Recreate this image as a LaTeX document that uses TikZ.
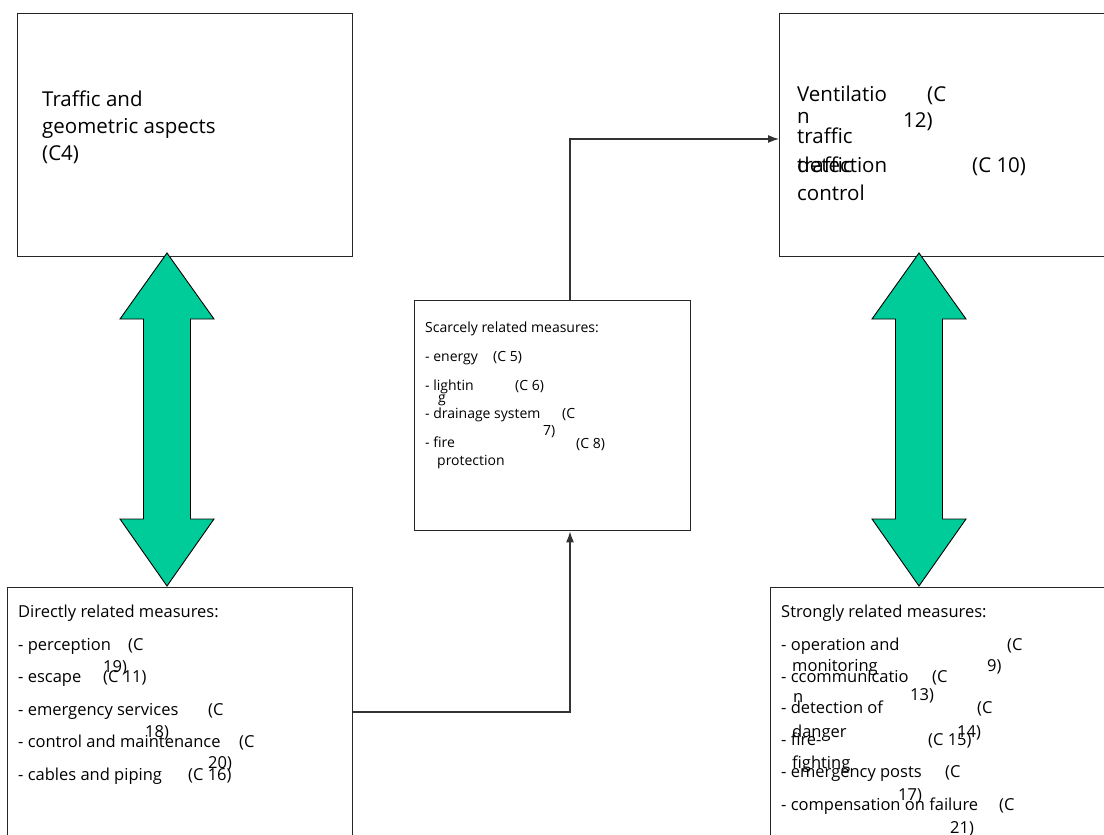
\documentclass[tikz,border=0pt]{standalone}
\usepackage{fontspec}
\setmainfont{Open Sans}
\usetikzlibrary{arrows.meta}
\definecolor{arrowgreen}{HTML}{00CC99}

\begin{document}
\begin{tikzpicture}[
  x=1pt, y=-1pt,
  % Box style
  panel/.style={rectangle, draw=black!85, line width=1.4pt, anchor=north west,
    inner sep=0pt},
  % Text styles
  bigtxt/.style={anchor=base west, inner sep=0pt, font=\fontsize{20.5}{24}\selectfont},
  listtxt/.style={anchor=base west, inner sep=0pt, font=\fontsize{16.5}{20}\selectfont},
  smalltxt/.style={anchor=base west, inner sep=0pt, font=\fontsize{14}{17}\selectfont},
  % Connector style
  link/.style={draw=black!80, line width=1.2pt, -{Latex[length=11pt,width=8pt]}},
  % Block arrow style
  bigarrow/.style={fill=arrowgreen, draw=black, line width=0.9pt, line join=miter},
]

\useasboundingbox (0,0) rectangle (1104,835);
\clip (0,0) rectangle (1104,835);

% --- Boxes ---
\node[panel, minimum width=335pt, minimum height=243pt] (traffic) at (17,13) {};
\node[panel, minimum width=340pt, minimum height=243pt] (vent) at (779,13) {};
\node[panel, minimum width=276pt, minimum height=230pt] (scarce) at (414,300) {};
\node[panel, minimum width=345pt, minimum height=250pt] (direct) at (7,587) {};
\node[panel, minimum width=350pt, minimum height=260pt] (strong) at (770,587) {};

% --- Top-left: traffic and geometry ---
\node[bigtxt] (tl1) at (42,106) {Traffic and};
\node[bigtxt] (tl2) at (42,133) {geometric aspects};
\node[bigtxt] (tl3) at (42,160) {(C4)};

% --- Top-right: ventilation, traffic ---
\node[bigtxt] (tr1) at (797,101) {Ventilatio};
\node[bigtxt] (tr1c) at (927,101) {(C};
\node[bigtxt] (tr2) at (797,123) {n};
\node[bigtxt] (tr2c) at (903,127) {12)};
\node[bigtxt] (tr3) at (797,143) {traffic};
\node[bigtxt] (tr4) at (797,172) {detection};
\node[bigtxt] (tr4b) at (797,172) {traffic};
\node[bigtxt] (tr4c) at (972,172) {(C 10)};
\node[bigtxt] (tr5) at (797,200) {control};

% --- Middle: scarcely related ---
\node[smalltxt] (m0) at (425,332) {Scarcely related measures:};
\node[smalltxt] (m1) at (425,361) {- energy};
\node[smalltxt] (m1c) at (493,361) {(C 5)};
\node[smalltxt] (m2) at (425,390) {- lightin};
\node[smalltxt] (m2c) at (515,390) {(C 6)};
\node[smalltxt] (m2b) at (438,402) {g};
\node[smalltxt] (m3) at (425,418) {- drainage system};
\node[smalltxt] (m3c) at (562,418) {(C};
\node[smalltxt] (m3d) at (543,435) {7)};
\node[smalltxt] (m4) at (425,447) {- fire};
\node[smalltxt] (m4c) at (576,448) {(C 8)};
\node[smalltxt] (m4b) at (437,465) {protection};

% --- Bottom-left: directly related ---
\node[listtxt] (d0) at (18,617) {Directly related measures:};
\node[listtxt] (d1) at (18,650) {- perception};
\node[listtxt] (d1c) at (128,650) {(C};
\node[listtxt] (d1d) at (103,672) {19)};
\node[listtxt] (d2) at (18,682) {- escape};
\node[listtxt] (d2c) at (103,682) {(C 11)};
\node[listtxt] (d3) at (18,715) {- emergency services};
\node[listtxt] (d3c) at (208,715) {(C};
\node[listtxt] (d3d) at (145,737) {18)};
\node[listtxt] (d4) at (18,747) {- control and maintenance};
\node[listtxt] (d4c) at (239,747) {(C};
\node[listtxt] (d4d) at (208,768) {20)};
\node[listtxt] (d5) at (18,780) {- cables and piping};
\node[listtxt] (d5c) at (188,780) {(C 16)};

% --- Bottom-right: strongly related ---
\node[listtxt] (s0) at (781,617) {Strongly related measures:};
\node[listtxt] (s1) at (781,650) {- operation and};
\node[listtxt] (s1c) at (1007,650) {(C};
\node[listtxt] (s1b) at (792,671) {monitoring};
\node[listtxt] (s1d) at (987,671) {9)};
\node[listtxt] (s2) at (781,682) {- ccommunicatio};
\node[listtxt] (s2c) at (932,682) {(C};
\node[listtxt] (s2b) at (793,702) {n};
\node[listtxt] (s2d) at (910,700) {13)};
\node[listtxt] (s3) at (781,713) {- detection of};
\node[listtxt] (s3c) at (977,713) {(C};
\node[listtxt] (s3b) at (792,737) {danger};
\node[listtxt] (s3d) at (957,737) {14)};
\node[listtxt] (s4) at (781,745) {- fire-};
\node[listtxt] (s4c) at (928,745) {(C 15)};
\node[listtxt] (s4b) at (792,768) {fighting};
\node[listtxt] (s5) at (781,777) {- emergency posts};
\node[listtxt] (s5c) at (945,777) {(C};
\node[listtxt] (s5d) at (898,800) {17)};
\node[listtxt] (s6) at (781,810) {- compensation on failure};
\node[listtxt] (s6c) at (999,810) {(C};
\node[listtxt] (s6d) at (950,833) {21)};

% --- Connectors ---
\coordinate (bendlow) at (570,712);
\coordinate (bendhigh) at (570,139);
\draw[link] (direct.east |- bendlow) -- (bendlow) -- (bendlow |- scarce.south);
\draw[link] (bendlow |- scarce.north) -- (bendhigh) -- (bendhigh -| vent.west);

% --- Double block arrows ---
\foreach \ax in {167,919}
  \draw[bigarrow] (\ax,253) -- (\ax+47,319) -- (\ax+23.5,319) -- (\ax+23.5,519)
    -- (\ax+47,519) -- (\ax,586) -- (\ax-47,519) -- (\ax-23.5,519)
    -- (\ax-23.5,319) -- (\ax-47,319) -- cycle;

\end{tikzpicture}
\end{document}
